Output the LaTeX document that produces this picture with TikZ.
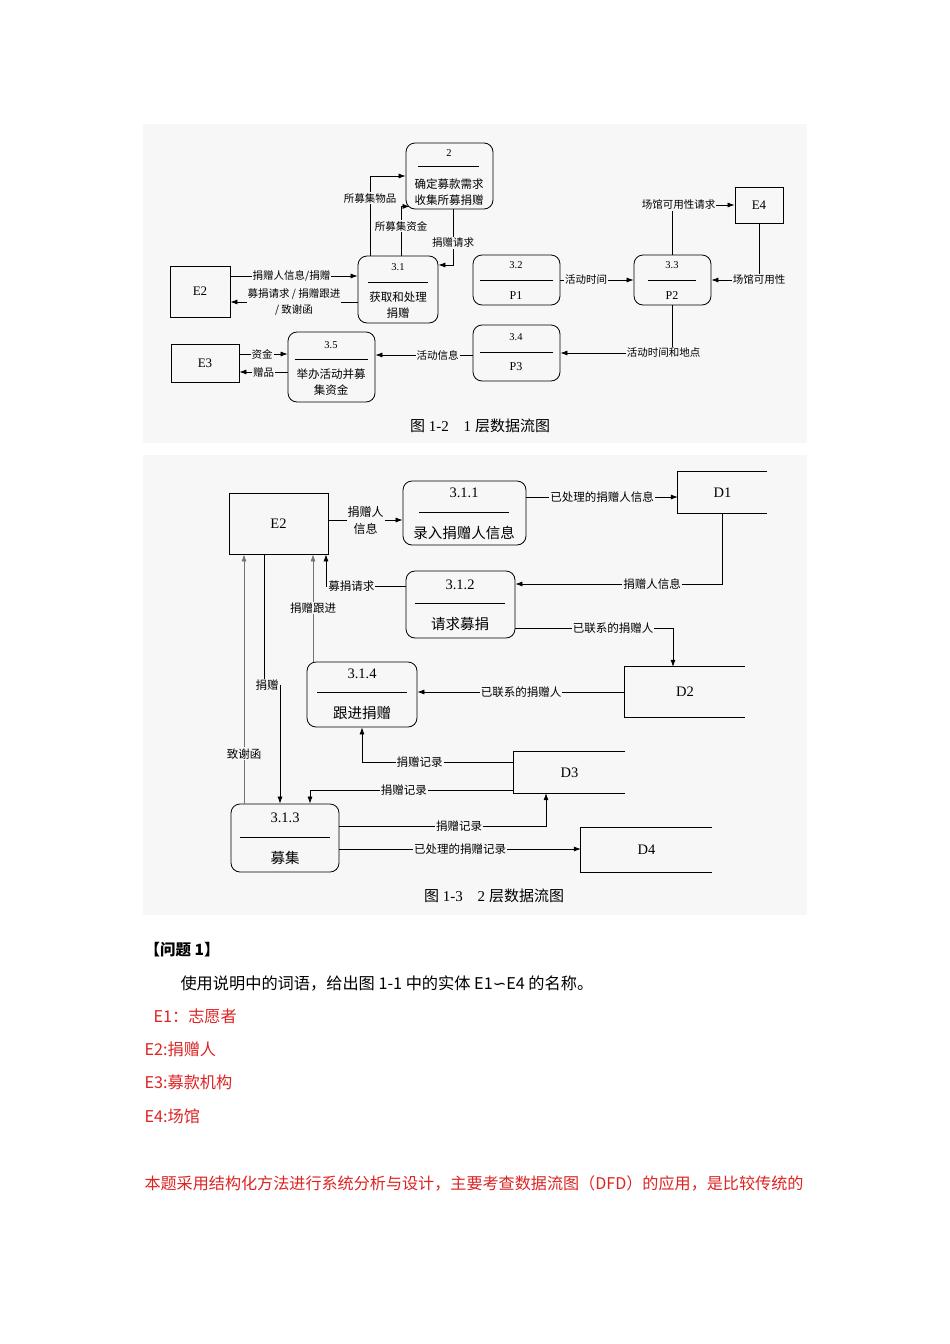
\documentclass[tikz,border=0pt]{standalone}
\usepackage{fontspec}
\setmainfont{Liberation Serif}
\newfontfamily\cjk{Noto Sans CJK SC}
\newfontfamily\dejavu{DejaVu Sans}
\usetikzlibrary{arrows.meta}
\definecolor{panel}{RGB}{247,247,247}
\definecolor{ansred}{RGB}{222,35,35}
\tikzset{
  proc/.style={draw, rounded corners=9pt, line width=0.8pt, inner sep=0pt},
  ent/.style={draw, line width=0.8pt, inner sep=0pt},
  store/.style={inner sep=0pt},
  flow/.style={-{Latex[length=7pt,width=5pt]}, line width=0.7pt},
  lbl/.style={fill=panel, inner sep=1pt, font=\cjk\fontsize{10.5}{16}\selectfont},
  lblb/.style={fill=panel, inner sep=1pt, font=\cjk\fontsize{11.5}{16}\selectfont},
  num/.style={font=\fontsize{10.5}{12}\selectfont},
  numb/.style={font=\fontsize{14.5}{16}\selectfont},
  ptxt/.style={font=\cjk\fontsize{11.5}{16}\selectfont},
  ptxtb/.style={font=\cjk\fontsize{14.5}{16}\selectfont},
  body/.style={anchor=west, font=\cjk\fontsize{16.2}{18}\selectfont}
}
\begin{document}
\begin{tikzpicture}[x=1pt, y=-1pt]
\fill[white] (0,0) rectangle (950,1344);
\useasboundingbox (0,0) rectangle (950,1344);
\fill[panel] (143,124) rectangle (807,443);
\fill[panel] (143,455) rectangle (807,915);

% 1 level
\node[ent, minimum width=60pt, minimum height=51pt, font=\fontsize{13}{14}\selectfont] (e2a) at (200,291.5) {E2};
\node[ent, minimum width=68pt, minimum height=38pt, font=\fontsize{13}{14}\selectfont] (e3) at (205,363) {E3};
\node[ent, minimum width=48pt, minimum height=36pt, font=\fontsize{13}{14}\selectfont] (e4) at (759,205) {E4};

\node[proc, minimum width=87pt, minimum height=66pt] (p2) at (449.5,176) {};
\node[num] (p2no) at (449,153) {2};
\draw (418,166) -- (479,166);
\node[ptxt, align=center] (p2txt) at (449,192) {确定募款需求\\收集所募捐赠};

\node[proc, minimum width=80pt, minimum height=67pt] (p31) at (398,289.5) {};
\node[num] (p31no) at (398,267) {3.1};
\draw (368,282) -- (428,282);
\node[ptxt, align=center] (p31txt) at (398,305) {获取和处理\\捐赠};

\node[proc, minimum width=87pt, minimum height=50pt] (p32) at (516.5,280) {};
\node[num] (p32no) at (516,265) {3.2};
\draw (480,280) -- (553,280);
\node[num, font=\fontsize{12}{13}\selectfont] (p32txt) at (516,296) {P1};

\node[proc, minimum width=77pt, minimum height=50pt] (p33) at (672.5,280) {};
\node[num] (p33no) at (672,265) {3.3};
\draw (648,280) -- (696,280);
\node[num, font=\fontsize{12}{13}\selectfont] (p33txt) at (672,296) {P2};

\node[proc, minimum width=87pt, minimum height=56pt] (p34) at (516.5,353) {};
\node[num] (p34no) at (516,337) {3.4};
\draw (480,352) -- (553,352);
\node[num, font=\fontsize{12}{13}\selectfont] (p34txt) at (516,367) {P3};

\node[proc, minimum width=87pt, minimum height=70pt] (p35) at (331.5,367) {};
\node[num] (p35no) at (331,345) {3.5};
\draw (295,359) -- (368,359);
\node[ptxt, align=center] (p35txt) at (331,382) {举办活动并募\\集资金};

\draw[flow] ([yshift=15.5pt]e2a.east) -- node[lbl, pos=0.48] {捐赠人信息/捐赠} ([yshift=13.5pt]p31.west);
\draw[flow] ([yshift=-12.5pt]p31.west) -- node[lbl, align=center, pos=0.5] {募捐请求 / 捐赠跟进\\/ 致谢函} ([yshift=-10.5pt]e2a.east);
\draw[flow] ([xshift=-28pt]p31.north) |- node[lbl, pos=0.36] {所募集物品} (p2.west);
\draw[flow] ([xshift=3pt]p31.north) |- node[lbl, pos=0.3] {所募集资金} ([xshift=4pt,yshift=3pt]p2.south west);
\draw[flow] ([xshift=3.5pt]p2.south) |- node[lbl, pos=0.3] {捐赠请求} ([yshift=24.5pt]p31.east);
\draw[flow] (p32.east) -- node[lbl, pos=0.35] {活动时间} (p33.west);
\draw[flow] (p33.north) |- node[lbl, pos=0.55] {场馆可用性请求} (e4.west);
\draw[flow] (e4.south) |- node[lbl, pos=0.5] {场馆可用性} (p33.east);
\draw[flow] (p33.south) |- node[lbl, pos=0.54] {活动时间和地点} (p34.east);
\draw[flow] ([yshift=-2pt]p34.west) -- node[lbl, pos=0.36] {活动信息} ([yshift=12pt]p35.east);
\draw[flow] ([yshift=9pt]e3.east) -- node[lbl, pos=0.47] {资金} ([yshift=13pt]p35.west);
\draw[flow] ([yshift=-5pt]p35.west) -- node[lbl, pos=0.5] {赠品} ([yshift=-9pt]e3.east);

\node[font=\fontsize{15}{16}\selectfont] (cap1) at (480,426) {{\cjk 图} 1-2\quad 1 {\cjk 层数据流图}};

% 2 level
\node[ent, minimum width=99pt, minimum height=61pt, font=\fontsize{14.5}{16}\selectfont] (e2b) at (278.5,523.5) {E2};

\node[store, minimum width=89pt, minimum height=41pt, numb] (d1) at (722.5,492.5) {D1};
\node[store, minimum width=120pt, minimum height=50pt, numb] (d2) at (685,692) {D2};
\node[store, minimum width=111pt, minimum height=41pt, numb] (d3) at (569.5,772.5) {D3};
\node[store, minimum width=131pt, minimum height=44pt, numb] (d4) at (646.5,850) {D4};
\foreach \d in {d1,d2,d3,d4}
  \draw[line width=0.8pt] (\d.north east) -- (\d.north west) -- (\d.south west) -- (\d.south east);

\node[proc, minimum width=123pt, minimum height=64pt] (p311) at (464.5,513) {};
\node[numb] (p311no) at (464,493) {3.1.1};
\draw (419,512) -- (509,512);
\node[ptxtb] (p311txt) at (464,533) {录入捐赠人信息};

\node[proc, minimum width=109pt, minimum height=67pt] (p312) at (460.5,604.5) {};
\node[numb] (p312no) at (460,585) {3.1.2};
\draw (415,603) -- (505,603);
\node[ptxtb] (p312txt) at (460,624) {请求募捐};

\node[proc, minimum width=110pt, minimum height=65pt] (p314) at (362,694.5) {};
\node[numb] (p314no) at (362,674) {3.1.4};
\draw (317,692) -- (407,692);
\node[ptxtb] (p314txt) at (362,713) {跟进捐赠};

\node[proc, minimum width=108pt, minimum height=68pt] (p313) at (285,838) {};
\node[numb] (p313no) at (285,818) {3.1.3};
\draw (240,837) -- (330,837);
\node[ptxtb] (p313txt) at (285,858) {募集};

\draw[flow] ([yshift=3.5pt]e2b.east) -- node[lblb, align=center, font=\cjk\fontsize{12}{17}\selectfont] {捐赠人\\信息} ([yshift=-7pt]p311.west);
\draw[flow] ([yshift=16pt]p311.east) -- node[lblb, pos=0.5] {已处理的捐赠人信息} ([yshift=-4.5pt]d1.west);
\draw[flow] (d1.south) |- node[lblb, pos=0.67] {捐赠人信息} ([yshift=20.5pt]p312.east);
\draw[flow] ([yshift=-23.5pt]p312.east) -| node[lblb, pos=0.31] {已联系的捐赠人} ([xshift=-12pt]d2.north);
\draw[flow] (d2.west) -- node[lblb, pos=0.5] {已联系的捐赠人} ([yshift=2.5pt]p314.east);
\draw[flow] ([yshift=18.5pt]p312.west) -| node[lblb, pos=0.34] {募捐请求} ([xshift=47.5pt]e2b.south);
\draw[flow, black!55] ([xshift=-49pt]p314.north) -- node[lblb, text=black, pos=0.5] {捐赠跟进} ([xshift=34.5pt]e2b.south);
\draw[flow, black!55] ([xshift=-41pt]p313.north) -- node[lblb, text=black, pos=0.2] {致谢函} ([xshift=-34.5pt]e2b.south);
\draw[flow] ([xshift=-14.5pt]e2b.south) -- ++(0,131) node[lblb, xshift=3pt] {捐赠} -| ([xshift=-5pt]p313.north);
\draw[flow] ([yshift=10.5pt]d3.west) -| node[lblb, pos=0.31] {捐赠记录} (p314.south);
\draw[flow] ([yshift=-17.5pt]d3.west) -| node[lblb, pos=0.27] {捐赠记录} ([xshift=25pt]p313.north);
\draw[flow] ([yshift=12pt]p313.east) -| node[lblb, pos=0.29] {捐赠记录} ([xshift=-23.5pt]d3.south);
\draw[flow] ([yshift=-11pt]p313.east) -- node[lblb, pos=0.5] {已处理的捐赠记录} ([yshift=1pt]d4.west);

\node[font=\fontsize{15}{16}\selectfont] (cap2) at (494,896) {{\cjk 图} 1-3\quad 2 {\cjk 层数据流图}};

% text
\node[body, font=\cjk\bfseries\fontsize{15.5}{18}\selectfont] (q1) at (141,950) {【问题 1】};
\node[body] (q1txt) at (177,983) {使用说明中的词语，给出图 1-1 中的实体 E1{\dejavu ∽}E4 的名称。};
\node[body, text=ansred] (a1) at (150,1016) {E1：志愿者};
\node[body, text=ansred] (a2) at (141,1049) {E2:捐赠人};
\node[body, text=ansred] (a3) at (141,1082) {E3:募款机构};
\node[body, text=ansred] (a4) at (141,1116) {E4:场馆};
\node[body, text=ansred, font=\cjk\fontsize{16.1}{18}\selectfont] (note) at (141,1183) {本题采用结构化方法进行系统分析与设计，主要考查数据流图（DFD）的应用，是比较传统的};
\end{tikzpicture}
\end{document}
